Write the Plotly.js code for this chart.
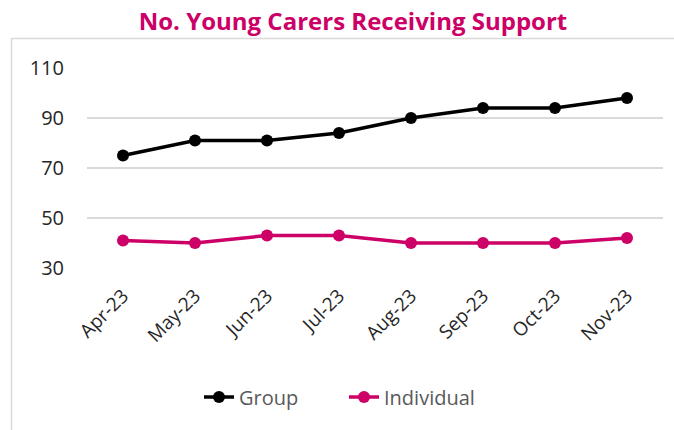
<!DOCTYPE html>
<html>
<head>
<meta charset="utf-8">
<script src="https://cdn.plot.ly/plotly-3.0.1.min.js"></script>
<style>html,body{margin:0;padding:0;background:#fff;}#chart{width:674px;height:430px;}</style>
</head>
<body>
<div id="chart"></div>
<script>
const months = ["Apr-23","May-23","Jun-23","Jul-23","Aug-23","Sep-23","Oct-23","Nov-23"];
const groupValues = [75, 81, 81, 84, 90, 94, 94, 98];
const individualValues = [41, 40, 43, 43, 40, 40, 40, 42];
const yTicks = [30, 50, 70, 90, 110];

const FONT = "'Open Sans', 'Noto Sans', sans-serif";

const traces = [
  {
    x: months, y: groupValues, name: "Group", type: "scatter", mode: "lines+markers",
    line: {color: "#000000", width: 3.5},
    marker: {color: "#000000", size: 12},
    cliponaxis: false
  },
  {
    x: months, y: individualValues, name: "Individual", type: "scatter", mode: "lines+markers",
    line: {color: "#CC0066", width: 3.5},
    marker: {color: "#CC0066", size: 12},
    cliponaxis: false
  }
];

const layout = {
  width: 674, height: 430,
  margin: {l: 87, r: 11, t: 68, b: 162},
  paper_bgcolor: "#ffffff", plot_bgcolor: "#ffffff",
  font: {family: FONT, color: "#262626"},
  title: {
    text: "<b>No. Young Carers Receiving Support</b>",
    font: {family: FONT, size: 24, color: "#CC0066"},
    xref: "paper", x: (353 - 87) / 576, xanchor: "center",
    yref: "container", y: 1 - 22 / 430, yanchor: "middle"
  },
  xaxis: {
    type: "category",
    tickangle: -45,
    tickfont: {family: FONT, size: 19, color: "#262626"},
    showgrid: false, zeroline: false, showline: false, ticks: "",
    range: [-0.5, 7.5],
    ticklabelstandoff: 12
  },
  yaxis: {
    range: [30, 110],
    tickvals: yTicks,
    ticktext: yTicks.map(String),
    tickfont: {family: FONT, size: 20, color: "#262626"},
    showgrid: true, gridcolor: "#d9d9d9", gridwidth: 1.5,
    zeroline: false, showline: false, ticks: "",
    ticklabelstandoff: 22
  },
  showlegend: true,
  legend: {
    orientation: "h",
    x: (344 - 87) / 576, xanchor: "center",
    y: (268 - 397) / 200, yanchor: "middle",
    font: {family: FONT, size: 20, color: "#595959"},
    entrywidth: 100, entrywidthmode: "pixels",
    bgcolor: "rgba(0,0,0,0)"
  },
  shapes: [
    {type: "rect", xref: "paper", yref: "paper",
     x0: (11.5 - 87) / 576, x1: (690 - 87) / 576,
     y0: (268 - 440) / 200, y1: (268 - 38.5) / 200,
     line: {color: "#d9d9d9", width: 1.5}, fillcolor: "rgba(0,0,0,0)", layer: "below"}
  ]
};

Plotly.newPlot("chart", traces, layout, {displayModeBar: false, staticPlot: true});
</script>
</body>
</html>
